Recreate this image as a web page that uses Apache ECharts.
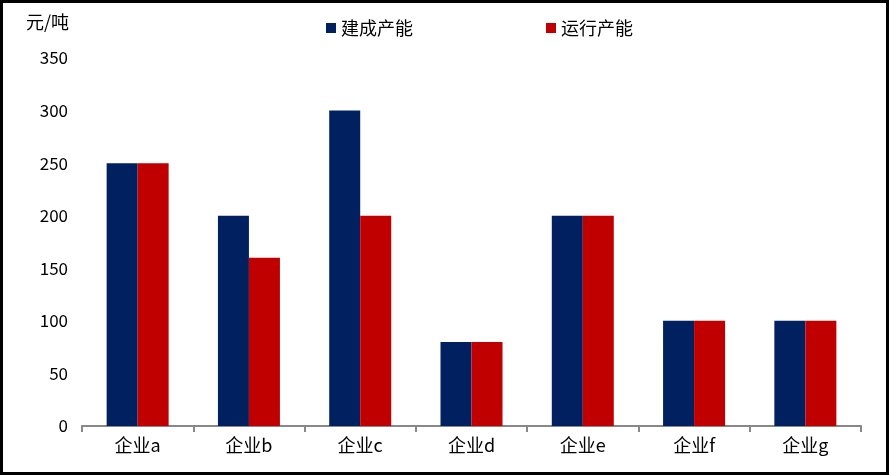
<!DOCTYPE html>
<html><head><meta charset="utf-8">
<script src="https://cdn.jsdelivr.net/npm/echarts@6/dist/echarts.min.js"></script>
<style>html,body{margin:0;padding:0;background:#fff}#c{width:889px;height:475px}</style>
</head><body><div id="c"></div>
<script>
const categories = ['企业a','企业b','企业c','企业d','企业e','企业f','企业g'];
const builtCapacity = [250, 200, 300, 80, 200, 100, 100];
const runningCapacity = [250, 160, 200, 80, 200, 100, 100];
const seriesNames = ['建成产能', '运行产能'];
const yUnit = '元/吨';

const font = '"Noto Sans CJK SC", "Noto Sans", sans-serif';
const chart = echarts.init(document.getElementById('c'));
chart.setOption({
  animation: false,
  textStyle: { fontFamily: font },
  graphic: [
    { type: 'rect', shape: { x: 1.5, y: 1.5, width: 886, height: 472 }, style: { fill: 'none', stroke: '#000', lineWidth: 3 }, silent: true },
    { type: 'text', left: 26, top: 13, style: { text: yUnit, font: '18px ' + font, fill: '#000' } }
  ],
  legend: {
    top: 14, left: 321,
    itemWidth: 10, itemHeight: 10, itemGap: 133,
    icon: 'rect',
    textStyle: { fontSize: 18, color: '#000', fontFamily: font },
    data: seriesNames
  },
  grid: { left: 82, right: 28, top: 58, bottom: 49, containLabel: false },
  xAxis: {
    type: 'category', data: categories,
    axisLine: { lineStyle: { color: '#888', width: 2 } },
    axisTick: { show: true, length: 6, lineStyle: { color: '#888', width: 2 } },
    axisLabel: { color: '#000', fontSize: 18, margin: 10, fontFamily: font }
  },
  yAxis: {
    type: 'value', min: 0, max: 350, interval: 50,
    axisLine: { show: false }, axisTick: { show: false }, splitLine: { show: false },
    axisLabel: { color: '#000', fontSize: 17, margin: 14, fontFamily: font }
  },
  series: [
    { name: seriesNames[0], type: 'bar', data: builtCapacity, barWidth: 31, barGap: '0%', itemStyle: { color: '#002060' } },
    { name: seriesNames[1], type: 'bar', data: runningCapacity, barWidth: 31, barGap: '0%', itemStyle: { color: '#C00000' } }
  ]
});
</script></body></html>
